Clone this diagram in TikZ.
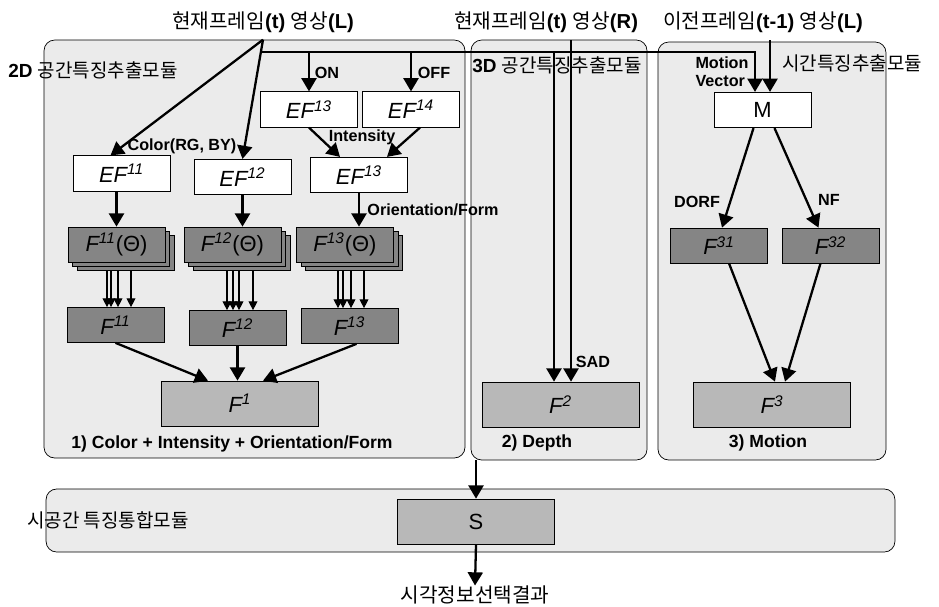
\documentclass[tikz,border=0pt]{standalone}
\usepackage{fontspec}
\setmainfont{Liberation Sans}
\newfontfamily\kr{Noto Sans CJK KR}
\usetikzlibrary{arrows.meta}
\usetikzlibrary{calc}

\tikzset{
	module/.style={draw,thin,fill=black!8,rounded corners=6pt,inner sep=0},
	efbox/.style={draw,fill=white,minimum width=1.94cm,minimum height=0.71cm,inner sep=0,font=\fontsize{12.5}{14}\selectfont\itshape},
	darkbox/.style={draw,fill=black!48,minimum width=1.94cm,minimum height=0.7cm,inner sep=0,font=\fontsize{12.5}{14}\selectfont\itshape},
	sumbox/.style={draw,fill=black!28,minimum width=3.14cm,minimum height=0.9cm,inner sep=0,font=\fontsize{12.5}{14}\selectfont\itshape},
	arr/.style={-{Triangle[length=7.5pt,width=8.5pt]},line width=1.3pt},
	thinarr/.style={-{Triangle[length=5pt,width=5pt]},line width=0.6pt},
	lbl/.style={font=\bfseries\fontsize{9.2}{10}\selectfont,inner sep=0},
	modcap/.style={font=\bfseries\fontsize{10}{12}\selectfont,inner sep=0},
	ttl/.style={font=\fontsize{11.5}{13}\selectfont,inner sep=0},
	modlbl/.style={font=\fontsize{10.8}{13}\selectfont,inner sep=0,anchor=west}
}

\begin{document}
\begin{tikzpicture}[x=0.02cm,y=-0.02cm]
	\useasboundingbox (0,0) rectangle (939,606);
	
	%modules
	\node[module,minimum width=8.42cm,minimum height=8.36cm] (mod1) at (254.5,249) {};	%2D
	\node[module,minimum width=3.52cm,minimum height=8.4cm] (mod2) at (559,250) {};	%3D
	\node[module,minimum width=4.56cm,minimum height=8.36cm] (mod3) at (772,251) {};	%time
	\node[module,minimum width=16.98cm,minimum height=1.26cm] (mod4) at (470.5,520.5) {};	%fusion
	\node[modlbl] (l2d) at (8,70)   {\textbf{2D} {\kr 공간특징추출모듈}};
	\node[modlbl] (l3d) at (472,65) {\textbf{3D} {\kr 공간특징추출모듈}};
	\node[modlbl] (ltm) at (782,63) {\kr 시간특징추출모듈};
	\node[modlbl] (lst) at (27,520) {\kr 시공간 특징통합모듈};
	
	%inputs
	\node[ttl] (tL) at (263,22) {{\kr 현재프레임}\textbf{(t)} {\kr 영상}\textbf{(L)}};
	\node[ttl] (tR) at (546,22) {{\kr 현재프레임}\textbf{(t)} {\kr 영상}\textbf{(R)}};
	\node[ttl] (tP) at (763,22) {{\kr 이전프레임}\textbf{(t-1)} {\kr 영상}\textbf{(L)}};
	\coordinate (inL) at (tL.south |- mod1.north);
	\coordinate (busL) at (260.5,52);
	\coordinate (inR) at (571,40);
	\coordinate (inP) at (770,40);
	
	%2D boxes
	\node[efbox] (EF11)  at (121.5,173.5) {EF\textsuperscript{11}};
	\node[efbox] (EF12)  at (242.5,177)   {EF\textsuperscript{12}};
	\node[efbox] (EF13a) at (309,109.5)   {EF\textsuperscript{13}};
	\node[efbox] (EF14)  at (411,109.5)   {EF\textsuperscript{14}};
	\node[efbox] (EF13b) at (359,175)     {EF\textsuperscript{13}};
	\foreach \n/\x in {11/116.5,12/232.5,13/345}{
		\node[darkbox] (F\n t3) at (\x+9,252.5) {};
		\node[darkbox] (F\n t2) at (\x+4.5,248.5) {};
		\node[darkbox] (F\n t)  at (\x,244.5) {F\textsuperscript{\n}\upshape(Θ)};
	}
	\node[darkbox] (F11) at (115.5,325) {F\textsuperscript{11}};
	\node[darkbox] (F12) at (237.5,328) {F\textsuperscript{12}};
	\node[darkbox] (F13) at (349.5,326) {F\textsuperscript{13}};
	\node[sumbox]  (F1)  at (240,403.5) {F\textsuperscript{1}};
	
	%3D and time boxes
	\node[sumbox]  (F2)  at (560.5,404.5) {F\textsuperscript{2}};
	\node[efbox]   (M)   at (762.5,110)   {\upshape M};
	\node[darkbox] (F31) at (719,245.5)   {F\textsuperscript{31}};
	\node[darkbox] (F32) at (830.5,245.5) {F\textsuperscript{32}};
	\node[sumbox]  (F3)  at (772,404.5)   {F\textsuperscript{3}};
	
	%fusion
	\node[sumbox] (S) at (476,521.5) {\upshape S};
	\node[ttl] (out) at (475,595) {\kr 시각정보선택결과};
	
	%arrows 2D
	\draw[arr] (inL) -- ($(EF11.north)+(-11,0)$);
	\draw[arr] (inL) -- (EF12.north);
	\draw[arr] (busL) -| ($(M.north)+(-7.5,0)$);	%motion vector
	\draw[arr] (EF13a.north |- busL) -- (EF13a.north);
	\draw[arr] (EF14.north |- busL) -- (EF14.north);
	\draw[arr] (EF13a.south) -- ($(EF13b.north)+(-19,0)$);
	\draw[arr] ($(EF14.south)+(9,0)$) -- ($(EF13b.north)+(28,0)$);
	\draw[arr] (EF11.south -| F11t.north) -- (F11t.north);
	\draw[arr] (EF12.south) -- (EF12.south |- F12t.north);
	\draw[arr] (EF13b.south) -- (EF13b.south |- F13t.north);
	\foreach \x in {107,111,118,131} \draw[thinarr] (\x,0 |- F11t3.south) -- (\x,0 |- F11.north);
	\foreach \x in {227,233,239,253} \draw[thinarr] (\x,0 |- F12t3.south) -- (\x,0 |- F12.north);
	\foreach \x in {338,343,351,364} \draw[thinarr] (\x,0 |- F13t3.south) -- (\x,0 |- F13.north);
	\draw[arr] (F11.south) -- ($(F1.north)+(-32,0)$);
	\draw[arr] (F12.south) -- (F12.south |- F1.north);
	\draw[arr] ($(F13.south)+(7,0)$) -- ($(F1.north)+(23,0)$);
	
	%arrows 3D and time
	\coordinate (sadL) at ($(F2.north)+(-6.5,0)$);
	\draw[arr] (sadL |- busL) -- (sadL);
	\draw[arr] (inR) -- (inR |- F2.north);
	\draw[arr] (inP) -- (inP |- M.north);
	\draw[arr] ($(M.south)+(-9,0)$) -- ($(F31.north)+(3,0)$);
	\draw[arr] ($(M.south)+(12,0)$) -- ($(F32.north)+(-12,0)$);
	\draw[arr] ($(F31.south)+(10,0)$) -- ($(F3.north)+(3,0)$);
	\draw[arr] ($(F32.south)+(-10,0)$) -- ($(F3.north)+(13,0)$);
	
	%arrows fusion
	\draw[arr] (mod2.south -| S.north) -- (S.north);
	\draw[arr] (S.south) -- (out.north);
	
	%labels
	\node[lbl] (lRGBY) at (182,146) {Color(RG, BY)};
	\node[lbl] (lON)   at (327,73)  {ON};
	\node[lbl] (lOFF)  at (434,73)  {OFF};
	\node[lbl] (lInt)  at (362,137) {Intensity};
	\node[lbl] (lOri)  at (433,210) {Orientation/Form};
	\node[lbl] (lSAD)  at (593,362) {SAD};
	\node[lbl,align=left] (lMV) at (722,72) {Motion\\Vector};
	\node[lbl] (lDORF) at (697,202) {DORF};
	\node[lbl] (lNF)   at (829,200) {NF};
	\node[modcap] (c1) at (232,444) {1) Color + Intensity + Orientation/Form};
	\node[modcap] (c2) at (537,443) {2) Depth};
	\node[modcap] (c3) at (768,443) {3) Motion};
\end{tikzpicture}
\end{document}
